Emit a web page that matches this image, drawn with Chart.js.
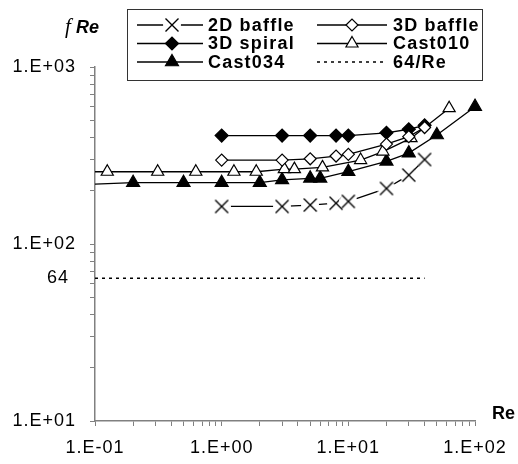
<!DOCTYPE html>
<html lang="en">
<head>
<meta charset="UTF-8">
<title>fRe vs Re</title>
<script src="https://cdn.jsdelivr.net/npm/chart.js"></script>
<style>
  html, body { margin: 0; padding: 0; background: #fff; }
</style>
</head>
<body>
<canvas id="frePlot" width="518" height="464"></canvas>
<script>
// values
const reBaffle = [1, 3, 5, 8, 10, 20, 30, 40];
const fRe2DBaffle = [163, 163, 166, 170, 174, 206, 245, 300];
const fRe3DBaffle = [298, 298, 303, 314, 321, 367, 404, 455];
const fRe3DSpiral = [410, 410, 410, 410, 410, 425, 445, 468];

const reCast010 = [0.05, 0.125, 0.3125, 0.625, 1.25, 1.875, 3.125, 3.75, 6.25, 12.5, 18.75, 31.25, 62.5];
const fReCast010 = [256, 256, 256, 256, 256, 256, 265, 265, 271, 298, 333, 396, 585];

const reCast034 = [0.05, 0.2, 0.5, 1, 2, 3, 5, 6, 10, 20, 30, 50, 100];
const fReCast034 = [214, 222, 222, 222, 222, 230, 235, 235, 256, 293, 326, 413, 597];

const reLaminar = [0.1, 40];
const fReLaminar = [64, 64];

const seriesLabels = ['2D baffle', '3D baffle', '3D spiral', 'Cast010', 'Cast034', '64/Re'];

const xMajor = [0.1, 1, 10, 100];
const xTickLabels = ['1.E-01', '1.E+00', '1.E+01', '1.E+02'];
const yMajor = [10, 100, 1000];
const yTickLabels = ['1.E+01', '1.E+02', '1.E+03'];
const yExtraValue = 64;
const yExtraLabel = '64';

const pts = (xs, ys) => xs.map((x, i) => ({ x: x, y: ys[i] }));

// 1,2,...,9 x each decade between lo and hi
function decadeTicks(lo, hi) {
    const out = [];
    for (let d = lo; d < hi * 0.999; d *= 10) {
        for (let m = 1; m <= 9; m++) out.push(d * m);
    }
    out.push(hi);
    return out;
}

function majorLabel(v, majors, labels) {
    const k = majors.findIndex(m => Math.abs(m - v) / m < 1e-6);
    return k >= 0 ? labels[k] : '';
}

// x marker with a white halo so the line stops short of it
function crossMarker() {
    const c = document.createElement('canvas');
    c.width = c.height = 18;
    const g = c.getContext('2d');
    g.fillStyle = '#fff';
    g.beginPath(); g.arc(9, 9, 9, 0, Math.PI * 2); g.fill();
    g.strokeStyle = '#000'; g.lineWidth = 1.4;
    g.beginPath();
    g.moveTo(2.5, 2.5); g.lineTo(15.5, 15.5);
    g.moveTo(15.5, 2.5); g.lineTo(2.5, 15.5);
    g.stroke();
    return c;
}
const xMark = crossMarker();

const legendBox = {
    id: 'legendBox',
    beforeDraw(chart) {
        chart.ctx.letterSpacing = '1px';
    },
    afterDraw(chart) {
        const ctx = chart.ctx;
        const yScale = chart.scales.y;
        ctx.save();
        ctx.letterSpacing = '1px';

        // extra y label "64"
        ctx.fillStyle = '#000';
        ctx.font = '18px "Liberation Sans", Arial, sans-serif';
        ctx.textAlign = 'right';
        ctx.textBaseline = 'middle';
        ctx.fillText(yExtraLabel, 69, yScale.getPixelForValue(yExtraValue));

        // axis titles
        ctx.textAlign = 'left';
        ctx.textBaseline = 'alphabetic';
        ctx.letterSpacing = '0px';
        ctx.font = 'italic 21px "Liberation Serif", serif';
        ctx.fillText('f', 65, 33);
        ctx.font = 'bold italic 18px "Liberation Sans", Arial, sans-serif';
        ctx.fillText('Re', 76, 33);
        ctx.font = 'bold 18px "Liberation Sans", Arial, sans-serif';
        ctx.fillText('Re', 492, 419);

        // legend frame
        ctx.fillStyle = '#fff';
        ctx.fillRect(127.5, 9.5, 355, 71);
        ctx.strokeStyle = '#333';
        ctx.lineWidth = 1;
        ctx.strokeRect(127.5, 9.5, 355, 71);

        const rows = [25, 43.5, 62];
        const cols = [
            { x0: 137, x1: 203, mx: 172, tx: 208 },
            { x0: 317, x1: 387, mx: 352, tx: 393 }
        ];
        chart.data.datasets.forEach((ds, i) => {
            const c = cols[i % 2];
            const y = rows[Math.floor(i / 2)];
            ctx.strokeStyle = '#000';
            ctx.lineWidth = ds.borderWidth;
            ctx.setLineDash(ds.borderDash || []);
            ctx.beginPath();
            ctx.moveTo(c.x0, y);
            ctx.lineTo(c.x1, y);
            ctx.stroke();
            ctx.setLineDash([]);
            if (ds.pointRadius > 0) {
                ctx.fillStyle = ds.pointBackgroundColor;
                ctx.strokeStyle = ds.pointBorderColor;
                ctx.lineWidth = ds.pointBorderWidth;
                Chart.helpers.drawPoint(ctx, {
                    pointStyle: ds.pointStyle,
                    radius: ds.pointRadius,
                    borderWidth: ds.pointBorderWidth,
                    rotation: 0
                }, c.mx, y);
            }
            ctx.fillStyle = '#000';
            ctx.letterSpacing = '1.2px';
            ctx.font = 'bold 18px "Liberation Sans", Arial, sans-serif';
            ctx.textAlign = 'left';
            ctx.textBaseline = 'middle';
            ctx.fillText(ds.label, c.tx, y + 1);
        });
        ctx.restore();
    }
};

const common = {
    borderColor: '#000',
    borderWidth: 1.3,
    showLine: true,
    pointBorderColor: '#000',
    pointBorderWidth: 1.2,
    // cut at the y axis only, so the end markers stay whole
    clip: { left: 0, top: false, right: false, bottom: false }
};

const datasets = [
    Object.assign({}, common, {
        label: seriesLabels[0], data: pts(reBaffle, fRe2DBaffle),
        pointStyle: xMark, pointRadius: 7, pointBackgroundColor: '#000'
    }),
    Object.assign({}, common, {
        label: seriesLabels[1], data: pts(reBaffle, fRe3DBaffle),
        pointStyle: 'rectRot', pointRadius: 6, pointBackgroundColor: '#fff'
    }),
    Object.assign({}, common, {
        label: seriesLabels[2], data: pts(reBaffle, fRe3DSpiral),
        pointStyle: 'rectRot', pointRadius: 6.5, pointBackgroundColor: '#000'
    }),
    Object.assign({}, common, {
        label: seriesLabels[3], data: pts(reCast010, fReCast010),
        pointStyle: 'triangle', pointRadius: 7, pointBackgroundColor: '#fff'
    }),
    Object.assign({}, common, {
        label: seriesLabels[4], data: pts(reCast034, fReCast034),
        pointStyle: 'triangle', pointRadius: 7.5, pointBackgroundColor: '#000'
    }),
    Object.assign({}, common, {
        label: seriesLabels[5], data: pts(reLaminar, fReLaminar),
        borderWidth: 1.5, borderDash: [3, 4], pointRadius: 0
    })
];

const axisGray = '#808080';

new Chart(document.getElementById('frePlot').getContext('2d'), {
    type: 'scatter',
    data: { datasets: datasets },
    options: {
        responsive: false,
        animation: false,
        layout: { padding: { top: 67, right: 43, left: 0, bottom: 0 } },
        plugins: { legend: { display: false }, tooltip: { enabled: false } },
        scales: {
            x: {
                type: 'logarithmic',
                min: 0.1,
                max: 100,
                afterFit: s => { s.height = 43; },
                afterBuildTicks: s => { s.ticks = decadeTicks(0.1, 100).map(v => ({ value: v })); },
                grid: { drawOnChartArea: false, drawTicks: true, tickLength: 5, tickColor: axisGray },
                border: { color: axisGray, width: 1.5 },
                ticks: {
                    autoSkip: false, maxRotation: 0, padding: 11, color: '#000',
                    font: { family: '"Liberation Sans", Arial, sans-serif', size: 18 },
                    callback: v => majorLabel(v, xMajor, xTickLabels)
                }
            },
            y: {
                type: 'logarithmic',
                min: 10,
                max: 1000,
                afterFit: s => { s.width = 95; },
                afterBuildTicks: s => { s.ticks = decadeTicks(10, 1000).map(v => ({ value: v })); },
                grid: { drawOnChartArea: false, drawTicks: true, tickLength: 5, tickColor: axisGray },
                border: { color: axisGray, width: 1.5 },
                ticks: {
                    autoSkip: false, padding: 14, color: '#000',
                    font: { family: '"Liberation Sans", Arial, sans-serif', size: 18 },
                    callback: v => majorLabel(v, yMajor, yTickLabels)
                }
            }
        }
    },
    plugins: [legendBox]
});
</script>
</body>
</html>
